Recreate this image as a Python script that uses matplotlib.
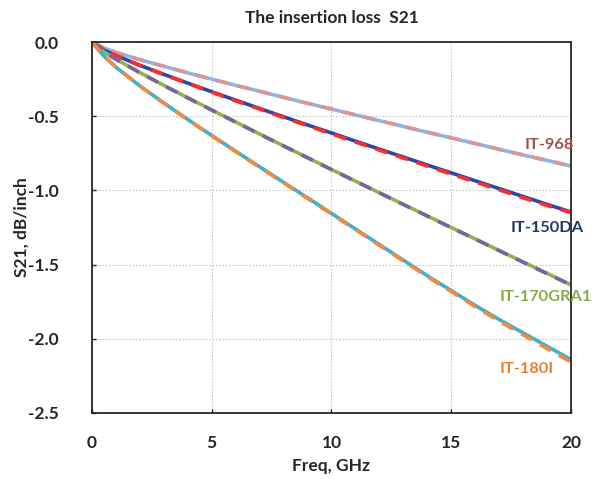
import matplotlib
matplotlib.use("Agg")
import matplotlib.pyplot as plt

plt.rcParams['font.family'] = ['Lato', 'DejaVu Sans']
plt.rcParams['font.weight'] = 'bold'

# frequency points, GHz
freq = [0, 0.5, 1, 2, 3, 4, 5, 6, 7, 8, 9, 10, 11, 12, 13, 14, 15, 16, 17, 18, 19, 20]

# S21, dB/inch (solid = measured, dashed = model)
it968 = [0, -0.04, -0.070, -0.119, -0.164, -0.208, -0.250, -0.292, -0.332, -0.373, -0.413,
         -0.452, -0.491, -0.530, -0.569, -0.608, -0.646, -0.684, -0.723, -0.761, -0.798, -0.836]
it968_sim = [0, -0.04, -0.070, -0.119, -0.164, -0.208, -0.250, -0.292, -0.332, -0.373, -0.413,
             -0.452, -0.491, -0.530, -0.569, -0.608, -0.646, -0.684, -0.723, -0.761, -0.798, -0.836]
it150 = [0, -0.055, -0.091, -0.157, -0.218, -0.277, -0.335, -0.392, -0.448, -0.504, -0.559,
         -0.613, -0.668, -0.722, -0.775, -0.829, -0.882, -0.935, -0.988, -1.041, -1.094, -1.146]
it150_sim = [0, -0.055, -0.092, -0.158, -0.220, -0.279, -0.338, -0.396, -0.452, -0.509, -0.564,
             -0.619, -0.674, -0.729, -0.782, -0.836, -0.890, -0.943, -0.996, -1.050, -1.101, -1.150]
it170 = [0, -0.067, -0.116, -0.206, -0.292, -0.376, -0.458, -0.539, -0.620, -0.700, -0.779,
         -0.859, -0.937, -1.016, -1.094, -1.172, -1.250, -1.327, -1.405, -1.482, -1.559, -1.636]
it170_sim = [0, -0.067, -0.116, -0.207, -0.293, -0.377, -0.459, -0.540, -0.621, -0.701, -0.780,
             -0.860, -0.938, -1.017, -1.095, -1.173, -1.251, -1.328, -1.406, -1.484, -1.561, -1.638]
it180 = [0, -0.095, -0.170, -0.296, -0.411, -0.522, -0.630, -0.736, -0.841, -0.946, -1.050,
         -1.155, -1.260, -1.365, -1.470, -1.575, -1.675, -1.775, -1.870, -1.960, -2.050, -2.140]
it180_sim = [0, -0.095, -0.170, -0.297, -0.412, -0.524, -0.632, -0.739, -0.844, -0.949, -1.054,
             -1.159, -1.264, -1.370, -1.475, -1.581, -1.682, -1.783, -1.881, -1.973, -2.066, -2.156]

labels = ['IT-968', 'IT-150DA', 'IT-170GRA1', 'IT-180I']
label_x = [19.08, 18.99, 18.94, 18.16]
label_y = [-0.695, -1.252, -1.715, -2.205]
label_colors = ['#A0504D', '#1F3864', '#8AAA4A', '#F07E30']

fig = plt.figure(figsize=(5.92, 4.79), dpi=100)
ax = fig.add_axes([0.1554, 0.1378, 0.8091, 0.7745])

lw = 2.6
ax.plot(freq, it968, color='#8FB4DE', lw=lw, solid_capstyle='round')
ax.plot(freq, it968_sim, color='#D99694', lw=lw, dashes=(3.5, 2.5))
ax.plot(freq, it150, color='#2E45A8', lw=lw, solid_capstyle='round')
ax.plot(freq, it150_sim, color='#FF2A2A', lw=lw, dashes=(3.5, 2.5))
ax.plot(freq, it170, color='#8DB54A', lw=lw, solid_capstyle='round')
ax.plot(freq, it170_sim, color='#7B62A2', lw=lw, dashes=(3.5, 2.5))
ax.plot(freq, it180, color='#3FB0C8', lw=lw, solid_capstyle='round')
ax.plot(freq, it180_sim, color='#F38A40', lw=lw, dashes=(3.5, 2.5))

for name, x, y, c in zip(labels, label_x, label_y, label_colors):
    ax.text(x, y, name, color=c, fontsize=11.8, fontweight='bold', ha='center', va='center')

ax.set_xlim(0, 20)
ax.set_ylim(-2.5, 0)
ax.set_xticks([0, 5, 10, 15, 20])
ax.set_yticks([0, -0.5, -1.0, -1.5, -2.0, -2.5])
ax.set_yticklabels(['0.0', '-0.5', '-1.0', '-1.5', '-2.0', '-2.5'])
ax.grid(True, color='#C8C8C8', linestyle=(0, (1.5, 1.5)), linewidth=0.8)
ax.tick_params(direction='in', length=3, width=1, labelsize=12.5, colors='#262626')
ax.tick_params(axis='x', pad=16)
ax.tick_params(axis='y', pad=24)
for s in ax.spines.values():
    s.set_linewidth(1.3)
    s.set_color('#262626')

ax.set_title('The insertion loss  S21', fontsize=12.5, fontweight='bold', color='#262626', pad=14)
ax.set_xlabel('Freq, GHz', fontsize=12.5, fontweight='bold', color='#262626', labelpad=5)
ax.set_ylabel('S21, dB/inch', fontsize=12.5, fontweight='bold', color='#262626', labelpad=-1)

plt.savefig('out.png', dpi=100)
